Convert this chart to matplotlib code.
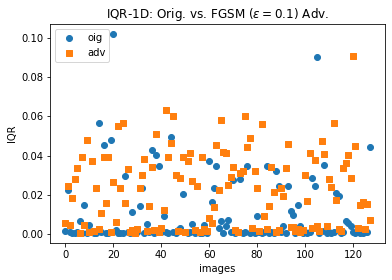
import matplotlib
matplotlib.use("Agg")
import matplotlib.pyplot as plt

# IQR values per image
orig_iqr = [
    0.0015, 0.0224, 0.0010, 0.0005, 0.0005, 0.0010, 0.0067, 0.0005, 0.0149, 0.0005,
    0.0046, 0.0010, 0.0005, 0.0005, 0.0568, 0.0010, 0.0455, 0.0005, 0.0005, 0.0477,
    0.1020, 0.0020, 0.0005, 0.0005, 0.0005, 0.0297, 0.0010, 0.0005, 0.0114, 0.0005,
    0.0010, 0.0142, 0.0234, 0.0005, 0.0050, 0.0010, 0.0426, 0.0005, 0.0405, 0.0347,
    0.0010, 0.0091, 0.0010, 0.0005, 0.0497, 0.0010, 0.0005, 0.0020, 0.0030, 0.0204,
    0.0010, 0.0005, 0.0010, 0.0050, 0.0005, 0.0010, 0.0005, 0.0005, 0.0046, 0.0005,
    0.0374, 0.0162, 0.0234, 0.0347, 0.0030, 0.0067, 0.0005, 0.0040, 0.0070, 0.0010,
    0.0275, 0.0005, 0.0010, 0.0280, 0.0005, 0.0010, 0.0347, 0.0005, 0.0010, 0.0005,
    0.0091, 0.0010, 0.0005, 0.0010, 0.0347, 0.0005, 0.0010, 0.0005, 0.0321, 0.0245,
    0.0010, 0.0040, 0.0005, 0.0245, 0.0116, 0.0096, 0.0005, 0.0147, 0.0040, 0.0005,
    0.0010, 0.0005, 0.0010, 0.0286, 0.0245, 0.0901, 0.0005, 0.0014, 0.0352, 0.0005,
    0.0010, 0.0005, 0.0010, 0.0209, 0.0193, 0.0005, 0.0010, 0.0067, 0.0056, 0.0040,
    0.0010, 0.0005, 0.0010, 0.0005, 0.0005, 0.0010, 0.0010, 0.0445,
]

adv_iqr = [
    0.0056, 0.0243, 0.0046, 0.0186, 0.0282, 0.0338, 0.0005, 0.0393, 0.0046, 0.0477,
    0.0010, 0.0374, 0.0015, 0.0236, 0.0024, 0.0106, 0.0393, 0.0159, 0.0393, 0.0010,
    0.0265, 0.0062, 0.0552, 0.0236, 0.0568, 0.0159, 0.0333, 0.0010, 0.0020, 0.0005,
    0.0025, 0.0236, 0.0301, 0.0385, 0.0015, 0.0142, 0.0340, 0.0020, 0.0508, 0.0010,
    0.0030, 0.0121, 0.0634, 0.0393, 0.0465, 0.0604, 0.0301, 0.0015, 0.0286, 0.0393,
    0.0010, 0.0373, 0.0414, 0.0270, 0.0020, 0.0245, 0.0010, 0.0393, 0.0025, 0.0015,
    0.0080, 0.0055, 0.0137, 0.0455, 0.0224, 0.0583, 0.0420, 0.0414, 0.0250, 0.0291,
    0.0342, 0.0020, 0.0010, 0.0311, 0.0321, 0.0604, 0.0445, 0.0491, 0.0030, 0.0321,
    0.0236, 0.0015, 0.0563, 0.0091, 0.0025, 0.0142, 0.0342, 0.0214, 0.0010, 0.0020,
    0.0234, 0.0193, 0.0337, 0.0460, 0.0035, 0.0035, 0.0015, 0.0025, 0.0010, 0.0020,
    0.0301, 0.0168, 0.0414, 0.0030, 0.0378, 0.0040, 0.0015, 0.0475, 0.0409, 0.0040,
    0.0280, 0.0239, 0.0568, 0.0173, 0.0025, 0.0015, 0.0337, 0.0363, 0.0404, 0.0286,
    0.0906, 0.0450, 0.0030, 0.0147, 0.0162, 0.0025, 0.0152, 0.0070,
]

images = list(range(len(orig_iqr)))

fig = plt.figure(figsize=(392 / 72, 280 / 72), dpi=72)
ax = fig.add_axes([50 / 392, 1 - 243 / 280, 335 / 392, 219 / 280])
ax.scatter(images, orig_iqr, label="oig")
ax.scatter(images, adv_iqr, marker="s", label="adv")
ax.set_xlabel("images")
ax.set_ylabel("IQR")
ax.set_title(r"IQR-1D: Orig. vs. FGSM ($\epsilon = 0.1$) Adv.")
ax.legend(loc="upper left")
fig.savefig("out.png", dpi=72)
